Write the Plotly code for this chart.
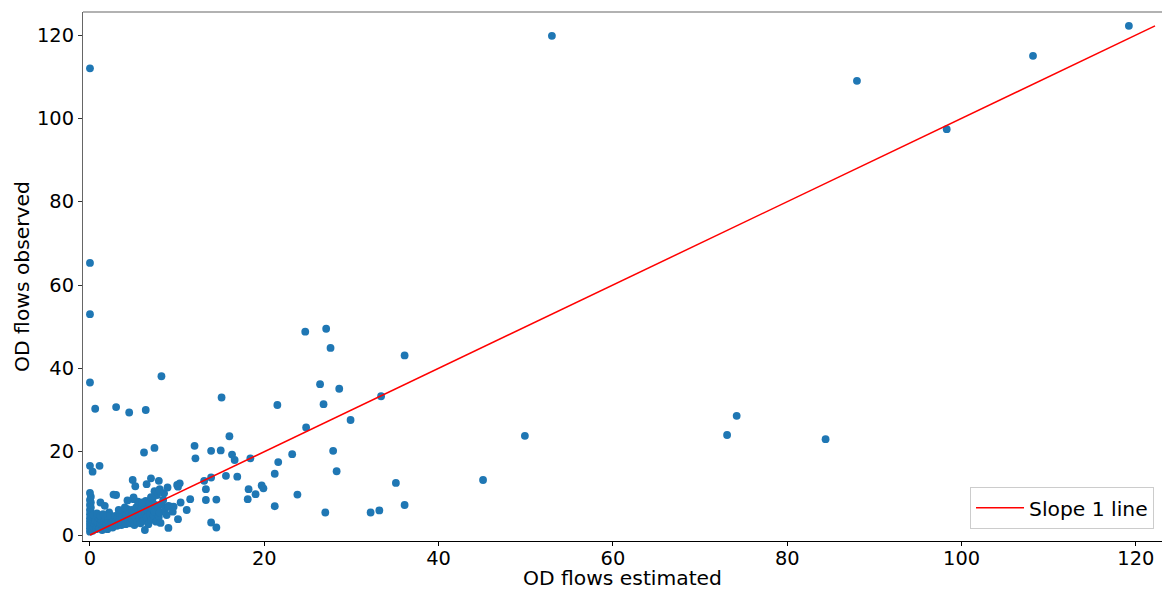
import plotly.graph_objects as go

# Outlying / sparse points (estimated, observed)
sparse_est = [119.2, 53.0, 108.2, 88.0, 98.3, 0.0, 0.0, 0.0, 0.0, 0.6, 3.0, 4.5, 6.4, 8.2,
              7.4, 6.2, 0.0, 0.3, 1.1, 15.1, 16.0, 12.0, 13.9, 15.0, 16.3, 16.6, 18.4, 12.1,
              24.7, 27.1, 27.6, 36.1, 21.5, 26.4, 28.6, 26.8, 33.4, 29.9, 24.8, 23.2, 27.9,
              21.6, 21.2, 28.3, 13.1, 13.9, 15.6, 16.9, 13.3, 10.0, 10.3, 10.1, 10.4, 11.1,
              11.5, 13.3, 14.5, 13.9, 14.5, 18.1, 18.2, 19.0, 19.7, 19.9, 21.2, 23.8, 27.0,
              32.2, 33.2, 35.1, 36.1, 45.1, 49.9, 73.1, 74.2, 84.4, 4.9, 7.0, 7.9, 5.2, 6.5,
              8.0, 8.9, 2.7, 5.0, 4.3, 7.0, 8.0, 10.1, 9.0, 6.3, 8.1, 9.0, 9.6, 1.2, 1.7]
sparse_obs = [122.2, 119.8, 115.0, 109.0, 97.4, 112.0, 65.3, 53.0, 36.6, 30.3, 30.7, 29.4, 30.0, 38.1,
              20.9, 19.8, 16.6, 15.2, 16.6, 33.0, 23.7, 21.4, 20.2, 20.3, 19.3, 18.0, 18.4, 18.4,
              48.8, 49.5, 44.9, 43.1, 31.2, 36.2, 35.1, 31.4, 33.3, 27.6, 25.8, 19.4, 20.2,
              17.5, 14.7, 15.3, 13.0, 13.8, 14.2, 14.0, 11.0, 12.0, 12.4, 11.6, 7.8, 6.0,
              8.6, 8.4, 8.5, 3.0, 1.8, 8.6, 11.0, 9.8, 11.9, 11.2, 6.9, 9.7, 5.4,
              5.4, 5.9, 12.5, 7.2, 13.2, 23.8, 24.0, 28.6, 23.0, 13.2, 13.6, 13.0, 11.7, 12.2,
              11.0, 11.4, 9.7, 9.0, 8.3, 9.1, 10.7, 3.8, 1.7, 1.2, 2.9, 6.8, 6.8, 7.8, 7.0]

# Dense cluster near the origin
dense_est = [0.0, 0.1, 0.0, 0.1, 0.0, 0.1, 0.0, 0.1, 0.0, 0.1, 0.0, 0.1, 0.0, 0.1, 0.0, 0.1, 0.0, 0.1, 0.0,
             0.3, 0.4, 0.5, 0.6, 0.7, 0.8, 0.9, 1.0, 1.1, 1.2, 1.3, 1.4, 1.5, 0.4, 0.8, 1.2,
             1.6, 1.7, 1.8, 1.9, 2.0, 2.1, 2.2, 2.3, 2.4, 2.5, 2.6, 2.7, 2.8, 2.9, 3.0, 2.0, 1.5,
             3.1, 3.2, 3.3, 3.4, 3.5, 3.6, 3.7, 3.8, 3.9, 4.0, 4.1, 4.2, 4.3, 4.4, 4.5, 4.6, 4.7,
             4.8, 4.9, 5.0, 3.3, 4.0, 3.0,
             5.1, 5.2, 5.3, 5.4, 5.5, 5.6, 5.7, 5.8, 5.9, 6.0, 6.1, 6.2, 6.3, 6.4, 6.5, 6.6, 6.7,
             6.8, 6.9, 7.0, 5.0, 5.5, 6.0,
             7.1, 7.2, 7.3, 7.4, 7.5, 7.6, 7.7, 7.8, 7.9, 8.0, 8.2, 8.4, 8.6, 8.8, 9.0, 9.3, 9.5,
             8.5, 7.4]
dense_obs = [0.8, 1.2, 1.6, 2.0, 2.4, 2.8, 3.2, 3.6, 4.0, 4.5, 5.0, 5.5, 6.0, 6.6, 7.2, 7.8, 8.4, 9.2, 10.1,
             1.0, 1.8, 2.6, 3.4, 1.4, 2.2, 3.0, 4.2, 1.6, 2.8, 3.6, 1.2, 2.4, 4.8, 5.2, 4.6,
             3.2, 1.8, 4.0, 2.6, 1.4, 3.4, 5.4, 2.2, 4.2, 3.0, 1.8, 3.8, 2.6, 4.6, 3.2, 4.6, 5.0,
             2.2, 4.0, 2.8, 3.6, 5.0, 2.4, 4.4, 3.0, 5.6, 3.8, 2.6, 4.8, 6.2, 3.4, 5.4, 2.8, 4.2,
             6.0, 3.6, 5.0, 6.0, 6.6, 9.6,
             2.4, 4.4, 6.6, 3.2, 5.6, 7.4, 4.0, 2.8, 6.2, 4.8, 3.4, 7.0, 5.2, 8.2, 4.2, 6.0, 2.6,
             7.6, 5.0, 3.6, 8.6, 8.0, 7.8,
             6.4, 8.8, 4.6, 5.6, 7.2, 3.2, 9.6, 6.8, 4.4, 5.4, 7.4, 8.4, 6.2, 4.8, 7.0, 6.8, 5.6,
             10.0, 10.5]

x_est = dense_est + sparse_est
y_obs = dense_obs + sparse_obs

x_ticks = [0, 20, 40, 60, 80, 100, 120]
y_ticks = [0, 20, 40, 60, 80, 100, 120]

line_max = max(y_obs)
line_x = [0, line_max]
line_y = [0, line_max]

FONT = "DejaVu Sans"
FS_TICK = 19.4
FS_TITLE = 20.3

fig = go.Figure()
fig.add_trace(go.Scatter(x=x_est, y=y_obs, mode="markers",
                         marker=dict(color="#1f77b4", size=7.8, line=dict(width=0)),
                         showlegend=False, hoverinfo="skip"))
fig.add_trace(go.Scatter(x=line_x, y=line_y, mode="lines",
                         line=dict(color="red", width=1.5), name="Slope 1 line"))

fig.update_layout(
    width=1162, height=590, autosize=False,
    margin=dict(l=83, r=0, t=12, b=49),
    paper_bgcolor="white", plot_bgcolor="white",
    font=dict(family=FONT, size=FS_TICK, color="black"),
    legend=dict(x=0.9926, y=0.0227, xanchor="right", yanchor="bottom",
                bgcolor="white", bordercolor="#cccccc", borderwidth=1,
                itemwidth=48, tracegroupgap=0,
                font=dict(family=FONT, size=FS_TITLE, color="black")),
    xaxis=dict(range=[-0.8, 123.0], tickvals=x_ticks, showgrid=False, zeroline=False,
               showline=True, linecolor="black", linewidth=1.2,
               ticks="outside", ticklen=4, tickcolor="black", tickwidth=1,
               ticklabelstandoff=-4,
               tickfont=dict(family=FONT, size=FS_TICK, color="black"),
               title=dict(text="OD flows estimated", standoff=3,
                          font=dict(family=FONT, size=FS_TITLE, color="black"))),
    yaxis=dict(range=[-1.44, 125.52], tickvals=y_ticks, showgrid=False, zeroline=False,
               showline=True, linecolor="#666666", linewidth=1.2,
               ticks="outside", ticklen=4, tickcolor="#333333", tickwidth=1,
               tickfont=dict(family=FONT, size=FS_TICK, color="black"),
               title=dict(text="OD flows observed", standoff=1,
                          font=dict(family=FONT, size=FS_TITLE, color="black"))),
)
fig.add_shape(type="line", xref="paper", yref="paper", x0=0, x1=1, y0=1, y1=1,
              line=dict(color="#666666", width=1.2))

fig.write_html("out.html", config={"displayModeBar": False},
               post_script="document.body.style.margin='0px';document.body.style.overflow='hidden';")
